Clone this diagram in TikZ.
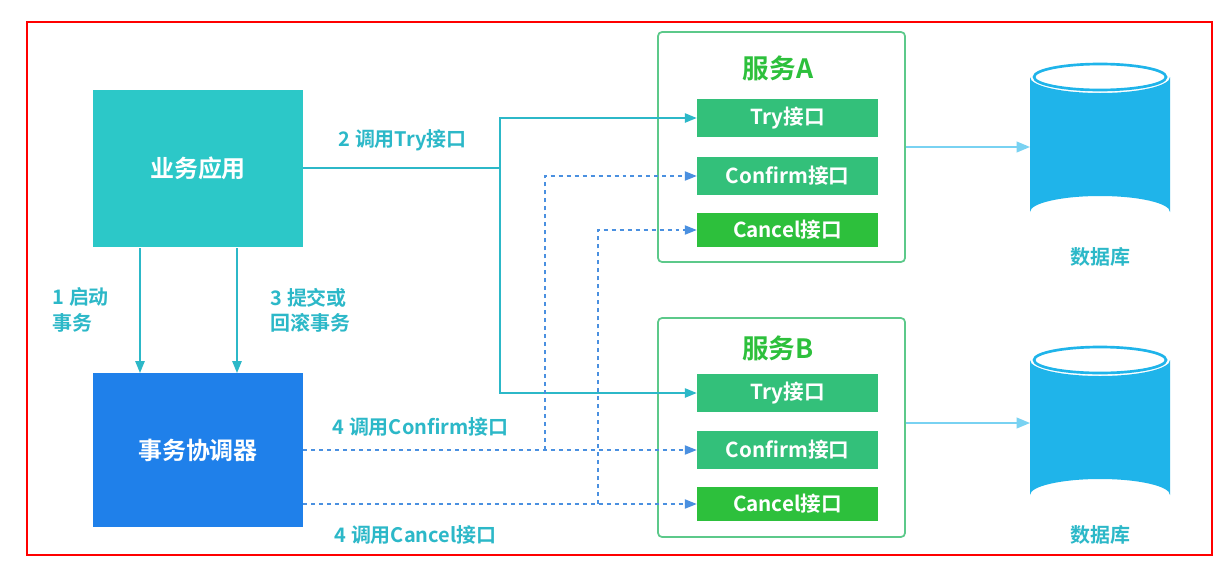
\documentclass[tikz,border=0pt]{standalone}
\usepackage{fontspec}
\newfontfamily\cjk{Noto Sans CJK SC}[BoldFont={Noto Sans CJK SC Bold}]
\usetikzlibrary{arrows.meta,positioning}
\definecolor{teal1}{HTML}{2CC8C8}
\definecolor{blue1}{HTML}{1F80EA}
\definecolor{grn}{HTML}{33C07A}
\definecolor{grn2}{HTML}{2DC03C}
\definecolor{gbord}{HTML}{5CC98A}
\definecolor{dbb}{HTML}{1FB4EA}
\definecolor{lbl}{HTML}{2CB8C8}
\definecolor{dash}{HTML}{4A90E0}
\begin{document}
\begin{tikzpicture}[x=0.0264cm,y=-0.0264cm,font=\cjk\bfseries,
  big/.style={minimum width=210*0.0264cm,minimum height=157*0.0264cm,text=white,font=\cjk\bfseries\fontsize{18}{21}\selectfont,inner sep=0},
  grp/.style={draw=gbord,line width=1.3pt,rounded corners=3pt,minimum width=247*0.0264cm,inner sep=0},
  ifc/.style={fill=grn,text=white,minimum width=181*0.0264cm,minimum height=38*0.0264cm,inner sep=0,font=\cjk\bfseries\fontsize{15.5}{17}\selectfont},
  lab/.style={text=lbl,font=\cjk\bfseries\fontsize{15}{19}\selectfont,align=left},
  ta/.style={draw=lbl,line width=1.3pt,-{Triangle[length=9pt,width=7pt]}},
  da/.style={draw=dash,line width=0.9pt,dashed,-{Triangle[length=9pt,width=7pt]}},
  dba/.style={draw=dbb!60,line width=1.3pt,-{Triangle[length=10pt,width=8pt]}}]
\fill[white] (0,0) rectangle (1228,575);
\draw[red,line width=0.8pt] (27,22) rectangle (1212,555);
\node[big,fill=teal1] (app) at (198,168) {业务应用};
\node[big,fill=blue1,minimum height=154*0.0264cm] (tc) at (198,450) {事务协调器};
\node[grp,minimum height=230*0.0264cm] (sa) at (781.5,147) {};
\node[grp,minimum height=219*0.0264cm] (sb) at (781.5,427.5) {};
\node[text=grn2,font=\cjk\bfseries\fontsize{20}{24}\selectfont] (ta) at (778,68) {服务A};
\node[text=grn2,font=\cjk\bfseries\fontsize{20}{24}\selectfont] (tb) at (778,348) {服务B};
\node[ifc] (atry) at (787.5,118) {Try接口};
\node[ifc] (acon) at (787.5,176) {Confirm接口};
\node[ifc,fill=grn2,minimum height=34*0.0264cm] (acan) at (787.5,230) {Cancel接口};
\node[ifc] (btry) at (787.5,393) {Try接口};
\node[ifc] (bcon) at (787.5,450) {Confirm接口};
\node[ifc,fill=grn2,minimum height=34*0.0264cm] (bcan) at (787.5,504) {Cancel接口};
% databases
\foreach \n/\y in {da/62,db/345}{
  \fill[dbb] (1030,\y+15) -- (1030,\y+150) arc[start angle=180,end angle=360,x radius=70,y radius=16] -- (1170,\y+15) arc[start angle=0,end angle=180,x radius=70,y radius=16];
  \draw[dbb,fill=white,line width=2pt] (1100,\y+15) ellipse[x radius=66,y radius=13];
  \coordinate (\n) at (1030,\y+85);
}
\node[text=lbl,font=\cjk\bfseries\fontsize{15}{17}\selectfont] (dl1) at (1100,257) {数据库};
\node[text=lbl,font=\cjk\bfseries\fontsize{15}{17}\selectfont] (dl2) at (1100,535) {数据库};
\draw[dba] (sa.east|-0,147) -- (da|-0,147);
\draw[dba] (sb.east|-0,423) -- (db|-0,423);
% try arrows
\coordinate (j) at (500,168);
\draw[draw=lbl,line width=1.3pt] (app.east|-j) -- (j);
\draw[ta] (j) -- (500,118) -- (atry.west);
\draw[ta] (j) -- (500,393) -- (btry.west);
% start arrows
\draw[ta] (140,248) -- (140,373);
\draw[ta] (237,248) -- (237,373);
\node[lab,anchor=west] (l1) at (48,310) {1 启动\\事务};
\node[lab,anchor=west] (l3) at (266,310) {3 提交或\\回滚事务};
\node[lab,anchor=west] (l2) at (334,140) {2 调用Try接口};
\node[lab,anchor=west] (l4) at (328,427) {4 调用Confirm接口};
\node[lab,anchor=west] (l5) at (330,535) {4 调用Cancel接口};
% dashed
\coordinate (c1) at (545,450);
\coordinate (c2) at (598,504);
\draw[da] (tc.east|-c1) -- (bcon.west);
\draw[da] (c1) -- (545,176) -- (acon.west);
\draw[da] (tc.east|-c2) -- (bcan.west);
\draw[da] (c2) -- (598,230) -- (acan.west);
\end{tikzpicture}
\end{document}
